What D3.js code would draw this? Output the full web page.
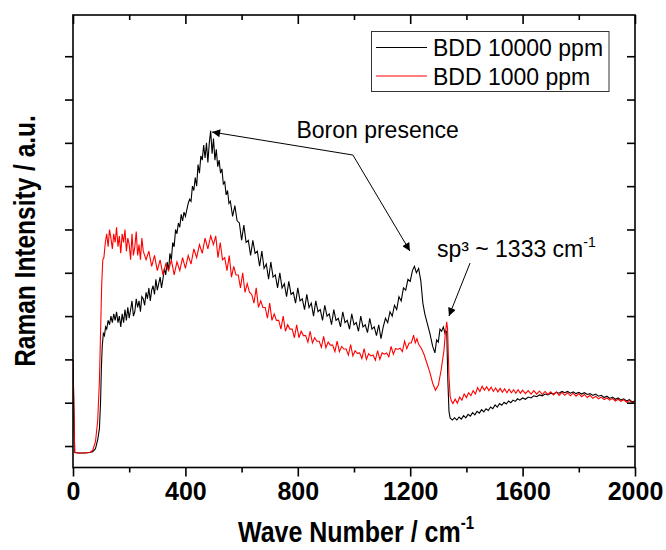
<!DOCTYPE html>
<html>
<head>
<meta charset="utf-8">
<script src="https://cdn.jsdelivr.net/npm/d3@7"></script>
<style>
  html, body { margin: 0; padding: 0; background: #fff; }
  svg { display: block; font-family: "Liberation Sans", Arial, sans-serif; }
</style>
</head>
<body>
<svg id="chart" width="666" height="550"></svg>
<script>
// ---------- data ----------
const seriesNames = ["BDD 10000 ppm", "BDD 1000 ppm"];
const seriesColors = ["#000000", "#ff0000"];

// [wave number (cm-1), intensity (a.u.)]
const black10000 = [
  [0,1986],[6,-150],[20,-160],[40,-160],[60,-150],[70,-130],[80,-60],[88,150],[94,400],[98,1000],
  [101,1800],[104,2300],[108,2600],[112,2550],[116,2750],[120,2700],[125,2900],[130,2800],[135,3000],[140,2850],
  [145,3050],[150,2900],[155,3100],[160,2850],[165,3000],[170,2750],[175,3050],[180,2850],[185,3150],[190,2900],
  [195,3200],[200,2950],[205,3150],[210,3350],[215,3000],[220,3100],[225,3400],[230,3200],[235,3350],[240,3100],
  [245,3450],[250,3400],[255,3250],[260,3550],[265,3400],[270,3650],[275,3350],[280,3600],[285,3700],[290,3500],
  [295,3850],[300,3600],[305,3750],[310,3900],[315,3650],[320,3850],[325,4100],[330,3950],[335,4250],[340,4050],
  [345,4450],[350,4300],[355,4700],[360,4600],
  [365,5000],[370,4900],[375,5150],[380,5050],[385,5350],[390,5200],[395,5400],[400,5300],[405,5450],[410,5600],
  [415,5700],[420,5650],[425,6000],[430,5900],[435,6200],[440,6000],[445,6500],[450,6300],[455,6700],[460,6600],
  [465,6950],[470,6650],[475,7000],[480,6550],[485,7000],[490,7280],[495,6750],[500,7100],[505,6600],[510,6850],
  [515,6450],[520,6600],[525,6300],[530,6400],[535,6050],[540,6100],[545,5800],[550,5900],[555,5600],
  [560,5650],[568,5300],[576,5550],[584,5200],[592,5150],[600,4750],[608,5100],[616,4700],[624,4750],[632,4400],
  [640,4750],[648,4450],[656,4500],[664,4150],[672,4500],[680,4100],[688,4200],[696,3850],[704,4250],[712,3900],
  [720,3950],[728,3650],[736,4000],[744,3650],[752,3750],[760,3450],[768,3800],[776,3500],[784,3550],[792,3300],
  [800,3650],[808,3350],[816,3400],[824,3150],[832,3500],[840,3200],[848,3300],[856,3000],[864,3350],[872,3100],
  [880,3150],[888,2900],[896,3250],[904,3000],[912,3050],[920,2800],[928,3150],[936,2900],[944,2950],[952,2750],
  [960,3100],[968,2850],[976,2900],[984,2700],[992,3050],[1000,2800],[1008,2850],[1016,2650],[1024,3000],[1032,2750],
  [1040,2800],[1048,2620],[1056,2950],[1064,2700],[1072,2750],[1080,2550],[1088,2800],[1096,2480],[1104,2750],
  [1112,2950],[1120,2850],[1128,3100],[1136,3000],[1144,3250],[1152,3150],[1160,3450],[1168,3350],[1176,3650],[1184,3600],
  [1192,3850],[1200,3800],[1208,4050],[1215,4150],[1222,4000],[1230,4100],[1238,3800],[1245,3300],[1252,3050],[1260,2850],
  [1270,2600],[1280,2300],[1288,2150],[1294,2450],[1300,2400],[1306,2700],[1312,2650],[1318,2750],[1324,2600],[1330,2650],
  [1334,1500],[1338,800],[1342,650],[1350,600],[1358,650],[1366,600],[1374,670],[1382,620],[1390,700],[1398,650],
  [1406,730],[1414,690],[1422,770],[1430,720],[1438,800],[1446,760],[1454,840],[1462,790],[1470,860],[1478,820],
  [1486,900],[1494,860],[1502,950],[1510,900],[1518,980],[1526,940],[1534,1010],[1542,970],[1550,1040],[1558,1000],
  [1566,1060],[1574,1030],[1582,1090],[1590,1060],[1600,1110],[1610,1080],[1620,1130],[1630,1110],[1640,1160],[1650,1140],
  [1660,1180],[1670,1160],[1680,1200],[1690,1180],[1700,1220],[1710,1200],[1720,1240],[1730,1220],[1740,1260],[1750,1230],
  [1760,1260],[1770,1220],[1780,1250],[1790,1210],[1800,1240],[1810,1200],[1820,1230],[1830,1190],[1840,1210],[1850,1170],
  [1860,1200],[1870,1150],[1880,1170],[1890,1120],[1900,1150],[1910,1100],[1920,1130],[1930,1080],[1940,1110],[1950,1060],
  [1960,1090],[1970,1040],[1980,1070],[1990,1020],[2000,1040]
];

const red1000 = [
  [0,1986],[6,-150],[20,-160],[40,-160],[60,-150],[70,-100],[80,100],[88,600],[94,1500],[98,2600],
  [102,3700],[106,4300],[110,4350],[115,4700],[120,4900],[125,4600],[130,5000],[135,4800],[140,4550],[145,4900],
  [150,4700],[155,5050],[160,4600],[165,4850],[170,4450],[175,4900],[180,4700],[185,5000],[190,4500],[195,4800],
  [200,4650],[205,4300],[210,4900],[215,4400],[220,4600],[225,4950],[230,4400],[235,4650],[240,4300],[245,4800],
  [250,4500],[260,4300],[270,4500],[280,4150],[290,4400],[300,4050],[310,4300],[320,3950],[330,4200],[340,4050],
  [350,4300],[360,3950],[370,4250],[380,4050],[390,4350],[400,4100],[410,4400],[420,4200],[430,4550],[440,4350],
  [450,4650],[460,4450],[470,4800],[480,4550],[490,4850],
  [500,4650],[508,4850],[516,4350],[524,4700],[532,4300],[540,4350],[548,4050],[556,4400],[564,3900],[572,4150],
  [580,3950],[588,3950],[596,3650],[604,4000],[612,3550],[620,3750],[628,3550],[636,3500],[644,3300],[652,3650],
  [660,3200],[668,3350],[676,3200],[684,3200],[692,2950],[700,3300],[708,2900],[716,3050],[724,2900],[732,2900],
  [740,2700],[748,3000],[756,2650],[764,2800],[772,2700],[780,2700],[788,2500],[796,2800],[804,2500],[812,2650],
  [820,2550],[828,2550],[836,2400],[844,2650],[852,2380],[860,2500],[868,2420],[876,2420],[884,2280],[892,2530],
  [900,2270],[908,2400],[916,2330],[924,2330],[932,2180],[940,2420],[948,2180],[956,2300],[964,2240],[972,2240],
  [980,2100],[988,2340],[996,2080],[1004,2200],[1012,2140],[1020,2150],[1028,2020],[1036,2250],[1044,2000],[1052,2130],
  [1060,2080],[1068,2100],[1076,1980],[1084,2200],[1092,2000],[1100,2150],[1108,2120],[1116,2150],[1124,2060],[1132,2300],
  [1140,2120],[1148,2250],[1156,2230],[1164,2260],[1172,2180],[1180,2420],[1188,2250],[1196,2380],[1204,2380],[1212,2560],
  [1218,2380],[1224,2480],[1230,2350],[1240,2250],[1250,2100],[1260,1900],[1270,1700],[1280,1450],[1290,1290],[1300,1400],
  [1310,1750],[1320,2200],[1325,2600],[1330,2870],[1333,2700],[1338,1600],[1342,1150],
  [1346,1050],[1352,980],[1360,1080],[1368,990],[1376,1130],[1384,1060],[1392,1200],[1400,1120],[1408,1230],[1416,1160],
  [1424,1280],[1432,1200],[1440,1350],[1448,1260],[1456,1380],[1464,1290],[1472,1370],[1480,1280],[1488,1360],[1496,1260],
  [1504,1340],[1512,1250],[1520,1330],[1528,1240],[1536,1320],[1544,1230],[1552,1310],[1560,1230],[1568,1300],[1576,1220],
  [1584,1300],[1592,1220],[1600,1290],[1610,1210],[1620,1280],[1630,1200],[1640,1280],[1650,1200],[1660,1270],[1670,1190],
  [1680,1260],[1690,1190],[1700,1250],[1710,1180],[1720,1250],[1730,1170],[1740,1240],[1750,1170],[1760,1230],[1770,1160],
  [1780,1220],[1790,1150],[1800,1210],[1810,1140],[1820,1190],[1830,1120],[1840,1170],[1850,1100],[1860,1150],[1870,1090],
  [1880,1130],[1890,1070],[1900,1110],[1910,1060],[1920,1100],[1930,1040],[1940,1080],[1950,1030],[1960,1070],[1970,1010],
  [1980,1050],[1990,1000],[2000,1030]
];

const xMajorTicks = [0, 400, 800, 1200, 1600, 2000];
const xMinorTicks = [200, 600, 1000, 1400, 1800];
const yTicks = [0, 1000, 2000, 3000, 4000, 5000, 6000, 7000, 8000, 9000];

const xTitle = "Wave Number / cm";
const yTitle = "Raman Intensity / a.u.";

// annotations in data coordinates
const boronLabel = { text: "Boron presence", wn: 795, v: 7112 };
const boronJoint = { wn: 996, v: 6719 };
const boronTips = [{ wn: 495, v: 7250 }, { wn: 1199, v: 4503 }];
const sp3Label = { wn: 1295, v: 4371 };
const sp3Arrow = { from: { wn: 1413, v: 4225 }, to: { wn: 1338, v: 3002 } };

// ---------- chart ----------
const svg = d3.select("#chart");
const L = 73, R = 635, T = 15, B = 467.5;

const x = d3.scaleLinear().domain([0, 2000]).range([L, R]);
const y = d3.scaleLinear().domain([-496, 9952]).range([B, T]);

const defs = svg.append("defs");
defs.append("clipPath").attr("id", "clip")
  .append("rect").attr("x", L).attr("y", T).attr("width", R - L).attr("height", B - T);
defs.append("marker")
  .attr("id", "arrow").attr("viewBox", "0 0 10 10")
  .attr("refX", 10).attr("refY", 5)
  .attr("markerWidth", 12).attr("markerHeight", 8)
  .attr("markerUnits", "userSpaceOnUse")
  .attr("orient", "auto")
  .append("path").attr("d", "M0,0 L10,5 L0,10 Z").attr("fill", "#000");

const line = d3.line().x(d => x(d[0])).y(d => y(d[1]));

const plot = svg.append("g").attr("clip-path", "url(#clip)");
[black10000, red1000].forEach((data, i) => {
  plot.append("path")
    .datum(data)
    .attr("fill", "none")
    .attr("stroke", seriesColors[i])
    .attr("stroke-width", 1.1)
    .attr("d", line);
});

// axes
const axisW = 1.6;
const gB = svg.append("g").attr("transform", `translate(0,${B})`)
  .call(d3.axisBottom(x).tickValues(xMajorTicks).tickSize(9).tickPadding(6).tickFormat(d3.format("d")));
const gBm = svg.append("g").attr("transform", `translate(0,${B})`)
  .call(d3.axisBottom(x).tickValues(xMinorTicks).tickSize(5).tickFormat(""));
const gT = svg.append("g").attr("transform", `translate(0,${T})`)
  .call(d3.axisBottom(x).tickValues(xMajorTicks).tickSize(9).tickFormat(""));
const gTm = svg.append("g").attr("transform", `translate(0,${T})`)
  .call(d3.axisBottom(x).tickValues(xMinorTicks).tickSize(5).tickFormat(""));
const gL = svg.append("g").attr("transform", `translate(${L},0)`)
  .call(d3.axisLeft(y).tickValues(yTicks).tickSize(8).tickFormat(""));
const gR = svg.append("g").attr("transform", `translate(${R},0)`)
  .call(d3.axisLeft(y).tickValues(yTicks).tickSize(8).tickFormat(""));

[gB, gBm, gT, gTm, gL, gR].forEach(g => {
  g.select(".domain").remove();
  g.selectAll(".tick line").attr("stroke", "#000").attr("stroke-width", axisW);
});
gB.selectAll(".tick text")
  .attr("fill", "#000")
  .style("font-family", "'Liberation Sans', Arial, sans-serif")
  .style("font-size", "25px")
  .style("font-weight", "bold");

// frame
svg.append("rect")
  .attr("x", L).attr("y", T).attr("width", R - L).attr("height", B - T)
  .attr("fill", "none").attr("stroke", "#000").attr("stroke-width", axisW);

// axis titles (slightly stretched like the original)
const xt = svg.append("text")
  .attr("transform", `translate(${(L + R) / 2 + 2},542) scale(1,1.2)`)
  .attr("text-anchor", "middle")
  .style("font-size", "25px").style("font-weight", "bold");
xt.append("tspan").text(xTitle);
xt.append("tspan").attr("dy", -11).style("font-size", "15px").text("-1");

svg.append("text")
  .attr("transform", `translate(35,241) rotate(-90) scale(1,1.2)`)
  .attr("text-anchor", "middle")
  .style("font-size", "24.5px").style("font-weight", "bold")
  .text(yTitle);

// legend
const lg = svg.append("g");
lg.append("rect")
  .attr("x", 371.5).attr("y", 31.5).attr("width", 237.5).attr("height", 60)
  .attr("fill", "#fff").attr("stroke", "#333").attr("stroke-width", 1);
seriesNames.forEach((name, i) => {
  const cy = 47.5 + i * 28.5;
  lg.append("line")
    .attr("x1", 376).attr("x2", 427).attr("y1", cy).attr("y2", cy)
    .attr("stroke", seriesColors[i]).attr("stroke-width", 1.2);
  lg.append("text")
    .attr("x", 433).attr("y", cy + 8.5)
    .style("font-size", "23px")
    .text(name);
});

// annotations
svg.append("text")
  .attr("x", x(boronLabel.wn)).attr("y", y(boronLabel.v))
  .style("font-size", "23px")
  .text(boronLabel.text);
boronTips.forEach(t => {
  svg.append("line")
    .attr("x1", x(boronJoint.wn)).attr("y1", y(boronJoint.v))
    .attr("x2", x(t.wn)).attr("y2", y(t.v))
    .attr("stroke", "#000").attr("stroke-width", 1)
    .attr("marker-end", "url(#arrow)");
});

const st = svg.append("text")
  .attr("x", x(sp3Label.wn)).attr("y", y(sp3Label.v))
  .style("font-size", "23px");
st.append("tspan").text("sp³ ~ 1333 cm");
st.append("tspan").attr("dy", -10).style("font-size", "14px").text("-1");

svg.append("line")
  .attr("x1", x(sp3Arrow.from.wn)).attr("y1", y(sp3Arrow.from.v))
  .attr("x2", x(sp3Arrow.to.wn)).attr("y2", y(sp3Arrow.to.v))
  .attr("stroke", "#000").attr("stroke-width", 1)
  .attr("marker-end", "url(#arrow)");
</script>
</body>
</html>
